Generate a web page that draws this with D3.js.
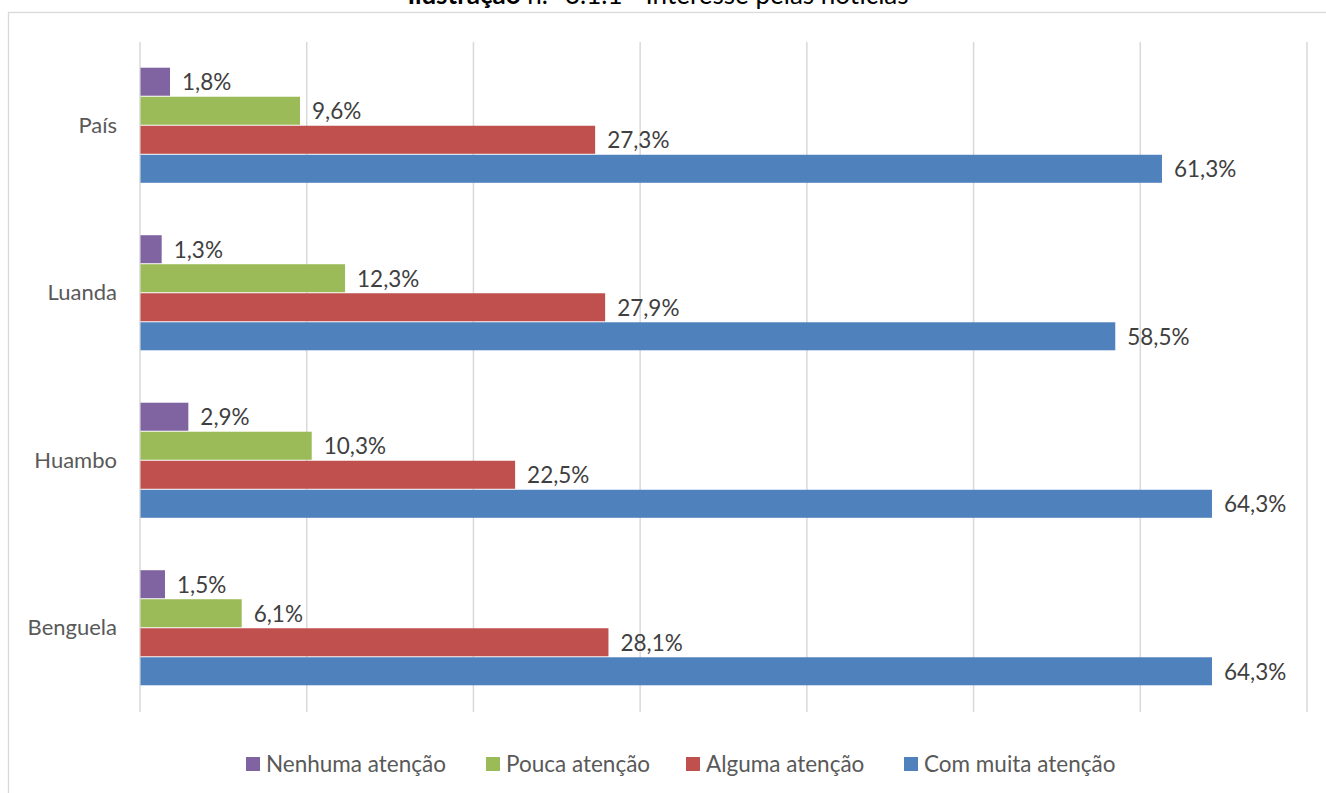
<!DOCTYPE html>
<html>
<head>
<meta charset="utf-8">
<script src="https://cdn.jsdelivr.net/npm/d3@7"></script>
<style>
  html, body { margin: 0; padding: 0; background: #fff; }
  svg { display: block; }
  text { font-family: Lato, "Open Sans", "Liberation Sans", sans-serif; }
</style>
</head>
<body>
<svg id="chart" width="1326" height="793"></svg>
<script>
// Regions shown on the category axis (top to bottom)
const regions = ["País", "Luanda", "Huambo", "Benguela"];

// Attention levels, in the order drawn inside each group and in the legend
const levels = ["Nenhuma atenção", "Pouca atenção", "Alguma atenção", "Com muita atenção"];
const levelColors = ["#8064A2", "#9BBB59", "#C0504D", "#4F81BD"];

// Percentage of respondents per level, one value per region
const nenhuma  = [1.8, 1.3, 2.9, 1.5];
const pouca    = [9.6, 12.3, 10.3, 6.1];
const alguma   = [27.3, 27.9, 22.5, 28.1];
const comMuita = [61.3, 58.5, 64.3, 64.3];

// Gridline positions along the value axis
const gridTicks = [0, 10, 20, 30, 40, 50, 60, 70];

const series = [nenhuma, pouca, alguma, comMuita];
const rows = [];
regions.forEach((r, i) => {
  levels.forEach((l, j) => rows.push({ region: r, level: l, value: series[j][i], color: levelColors[j] }));
});

const svg = d3.select("#chart");
const W = 1326, H = 793;
const plot = { left: 140, right: 1307, top: 42, bottom: 712 };

// Chart frame (its right and bottom edges fall outside the view)
svg.append("rect")
  .attr("x", 8.5).attr("y", 12.5)
  .attr("width", W + 20).attr("height", H + 20)
  .attr("fill", "#fff").attr("stroke", "#d9d9d9").attr("stroke-width", 1.3);

// Title, mostly above the frame
const title = svg.append("text")
  .attr("x", 658).attr("y", 4)
  .attr("text-anchor", "middle")
  .attr("font-size", 26)
  .attr("fill", "#000");
title.append("tspan").attr("font-weight", "bold").text("Ilustração");
title.append("tspan").text(" n.º 3.1.1 - Interesse pelas notícias");

const x = d3.scaleLinear().domain([0, 70]).range([plot.left, plot.right]);
const y = d3.scaleBand().domain(regions).range([plot.top, plot.bottom])
  .paddingInner(0.307).paddingOuter(0.1535);
const yInner = d3.scaleBand().domain(levels).range([0, y.bandwidth()]);

// Vertical gridlines
svg.append("g")
  .selectAll("line")
  .data(gridTicks)
  .join("line")
  .attr("x1", d => x(d)).attr("x2", d => x(d))
  .attr("y1", plot.top).attr("y2", plot.bottom)
  .attr("stroke", "#d9d9d9").attr("stroke-width", 1.5);

// Bars
svg.append("g")
  .selectAll("rect")
  .data(rows)
  .join("rect")
  .attr("x", x(0) + 0.5)
  .attr("y", d => y(d.region) + yInner(d.level))
  .attr("width", d => x(d.value) - x(0) - 0.5)
  .attr("height", yInner.bandwidth() - 1)
  .attr("fill", d => d.color);

// Value labels
svg.append("g")
  .selectAll("text")
  .data(rows)
  .join("text")
  .attr("x", d => x(d.value) + 12)
  .attr("y", d => y(d.region) + yInner(d.level) + yInner.bandwidth() / 2)
  .attr("dy", "0.36em")
  .attr("font-size", 22.5)
  .attr("fill", "#404040")
  .text(d => d3.format(".1f")(d.value).replace(".", ",") + "%");

// Category labels
const yAxis = d3.axisLeft(y).tickSize(0).tickPadding(23);
const gy = svg.append("g").attr("transform", `translate(${plot.left},0)`).call(yAxis);
gy.select(".domain").remove();
gy.selectAll("text")
  .attr("font-size", 22)
  .attr("fill", "#595959")
  .style("font-family", "Lato, 'Open Sans', sans-serif");

// Legend
const legendX = [246, 486, 686, 904];
const legend = svg.append("g")
  .selectAll("g")
  .data(levels)
  .join("g")
  .attr("transform", (d, i) => `translate(${legendX[i]},764)`);
legend.append("rect")
  .attr("x", 0).attr("y", -7)
  .attr("width", 14).attr("height", 14)
  .attr("fill", (d, i) => levelColors[i]);
legend.append("text")
  .attr("x", 20).attr("dy", "0.36em")
  .attr("font-size", 22.5)
  .attr("fill", "#595959")
  .text(d => d);
</script>
</body>
</html>
